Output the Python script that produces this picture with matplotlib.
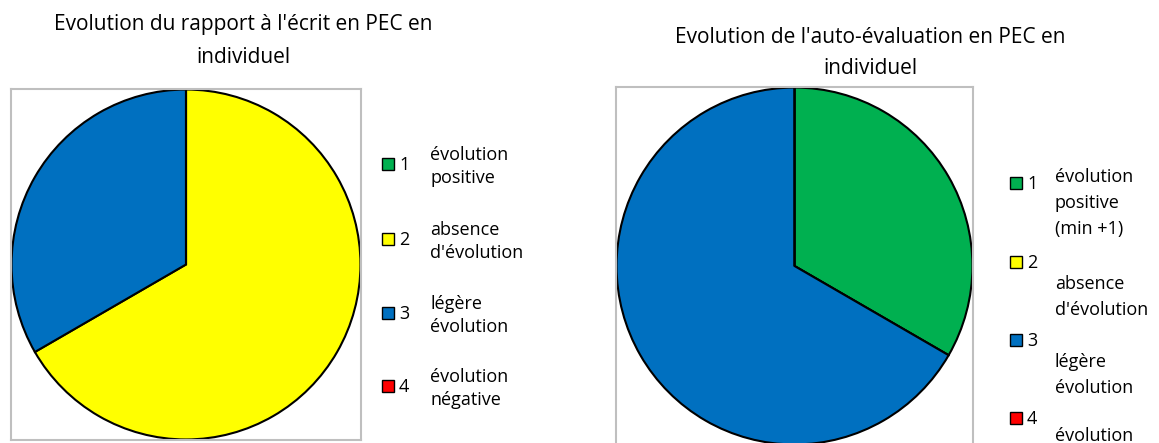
import matplotlib.pyplot as plt
from matplotlib.patches import Rectangle

plt.rcParams['font.family'] = ['Open Sans', 'DejaVu Sans']

# données
categories = ['1', '2', '3', '4']
colors = ['#00B050', '#FFFF00', '#0070C0', '#FF0000']

left_title = ["Evolution du rapport à l'écrit en PEC en", "individuel"]
left_values = [0, 2, 1, 0]
left_labels = [['évolution', 'positive'], ['absence', "d'évolution"],
               ['légère', 'évolution'], ['évolution', 'négative']]

right_title = ["Evolution de l'auto-évaluation en PEC en", "individuel"]
right_values = [1, 0, 2, 0]
right_labels = [['évolution', 'positive', '(min +1)'], ['absence', "d'évolution"],
                ['légère', 'évolution'], ['évolution']]

W, H = 1159, 443
fig = plt.figure(figsize=(W / 100, H / 100), dpi=100)


def px_axes(x0, y0, x1, y1):
    # coordonnées en pixels (origine en haut à gauche)
    return fig.add_axes([x0 / W, 1 - y1 / H, (x1 - x0) / W, (y1 - y0) / H])


def draw_pie(ax, values):
    vals = [v if v > 0 else 1e-9 for v in values]
    ax.pie(vals, colors=colors, startangle=90, counterclock=False, radius=1,
           wedgeprops=dict(edgecolor='black', linewidth=1.5))
    ax.set_xlim(-1.003, 1.003)
    ax.set_ylim(-1.003, 1.003)
    ax.set_aspect('auto')
    ax.set_axis_on()
    ax.set_frame_on(True)
    ax.set_xticks([])
    ax.set_yticks([])
    for s in ax.spines.values():
        s.set_visible(True)
        s.set_color('#BFBFBF')
        s.set_linewidth(1.5)


ax1 = px_axes(11, 89, 361, 440)
draw_pie(ax1, left_values)
ax2 = px_axes(616, 87, 973, 445)
draw_pie(ax2, right_values)


def px_text(x, y, s, **kw):
    fig.text(x / W, 1 - y / H, s, **kw)


# titres
for line, y in zip(left_title, [30, 63]):
    px_text(243, y, line, ha='center', va='baseline', fontsize=15)
for line, y in zip(right_title, [43, 74]):
    px_text(870, y, line, ha='center', va='baseline', fontsize=15)


def draw_legend(sq_x, sq_ys, txt_x, first_baselines, step, labels):
    for i, cat in enumerate(categories):
        y = sq_ys[i]
        fig.patches.append(Rectangle((sq_x / W, 1 - (y + 6) / H), 12 / W, 12 / H,
                                     transform=fig.transFigure, facecolor=colors[i],
                                     edgecolor='black', linewidth=1))
        px_text(sq_x + 17, y + 6, cat, ha='left', va='baseline', fontsize=13)
        for j, line in enumerate(labels[i]):
            px_text(txt_x, first_baselines[i] + j * step, line, ha='left',
                    va='baseline', fontsize=13)


draw_legend(382, [164, 239, 313, 386], 430, [160, 235, 309, 382], 23, left_labels)
draw_legend(1010, [183, 262, 340, 418], 1055, [182, 289, 367, 441], 26, right_labels)

fig.savefig('out.png', dpi=100)
